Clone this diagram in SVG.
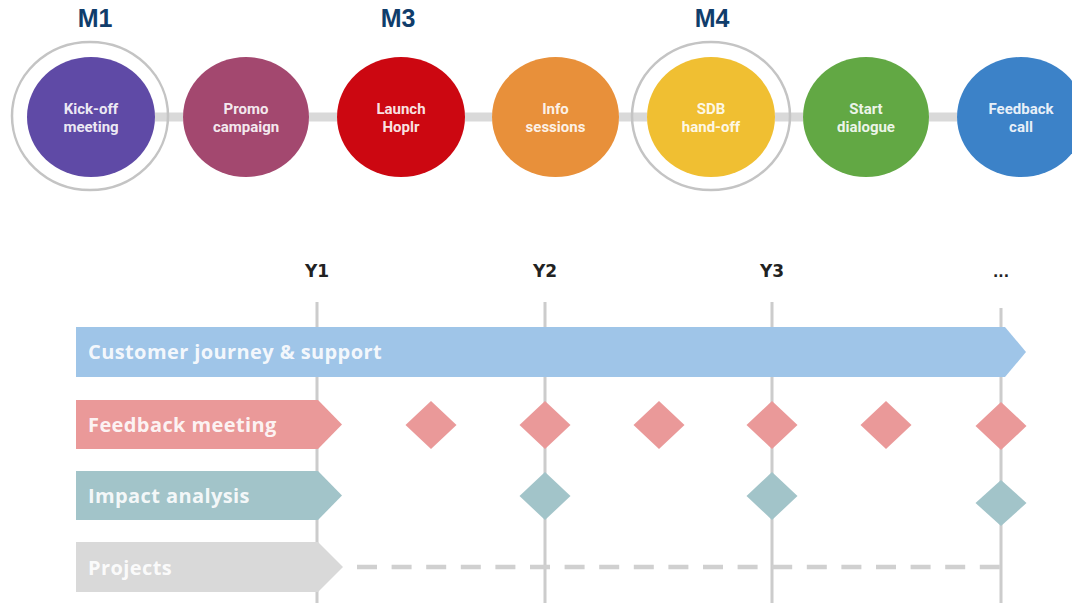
<svg xmlns="http://www.w3.org/2000/svg" width="1072" height="603" viewBox="0 0 1072 603">
  <style>
    .mlabel { font-family: "Liberation Sans", Arial, sans-serif; font-weight: 700; font-size: 25px; fill: #103d6b; text-anchor: middle; }
    .ctext { font-family: Roboto, "Liberation Sans", sans-serif; font-weight: 700; font-size: 15px; fill: #ffffff; fill-opacity: 0.9; text-anchor: middle; }
    .ring { fill: none; stroke: #c4c4c4; stroke-width: 2.5; }
    .conn { stroke: #d9d9d9; stroke-width: 9; fill: none; }
    .ylabel { font-family: "DejaVu Sans", sans-serif; font-weight: 700; font-size: 17px; fill: #222222; text-anchor: middle; }
    .vline { stroke: #cccccc; stroke-width: 3; fill: none; }
    .btext { font-family: "Open Sans", Roboto, "Liberation Sans", sans-serif; font-weight: 700; font-size: 20px; letter-spacing: 0.4px; fill: #ffffff; fill-opacity: 0.9; }
    .pink { fill: #ea9999; }
    .teal { fill: #a2c4c9; }
    .blue { fill: #9fc5e8; }
    .gray { fill: #d9d9d9; }
    .dash { stroke: #d0d0d0; stroke-width: 4.5; stroke-dasharray: 20 14.6; fill: none; }
  </style>

  <!-- milestone labels -->
  <text class="mlabel" x="95" y="27">M1</text>
  <text class="mlabel" x="398" y="27">M3</text>
  <text class="mlabel" x="712" y="27">M4</text>

  <g id="connectors">
    <line class="conn" x1="155" y1="117" x2="183" y2="117"/>
    <line class="conn" x1="309" y1="117" x2="337" y2="117"/>
    <line class="conn" x1="465" y1="117" x2="492" y2="117"/>
    <line class="conn" x1="619" y1="117" x2="647" y2="117"/>
    <line class="conn" x1="775" y1="117" x2="803" y2="117"/>
    <line class="conn" x1="929" y1="117" x2="957" y2="117"/>
  </g>

  <g id="kickoff">
    <ellipse class="ring" cx="90" cy="116" rx="78" ry="74"/>
    <ellipse cx="91" cy="117" rx="64" ry="60" fill="#5f4aa6"/>
    <text class="ctext" x="91" y="114">Kick-off</text>
    <text class="ctext" x="91" y="132">meeting</text>
  </g>
  <g id="promo">
    <ellipse cx="246" cy="117" rx="63" ry="60" fill="#a3486f"/>
    <text class="ctext" x="246" y="114">Promo</text>
    <text class="ctext" x="246" y="132">campaign</text>
  </g>
  <g id="launch">
    <ellipse cx="401" cy="117" rx="64" ry="60" fill="#cc0711"/>
    <text class="ctext" x="401" y="114">Launch</text>
    <text class="ctext" x="401" y="132">Hoplr</text>
  </g>
  <g id="info">
    <ellipse cx="555.5" cy="117" rx="63.5" ry="60" fill="#e8903a"/>
    <text class="ctext" x="555.5" y="114">Info</text>
    <text class="ctext" x="555.5" y="132">sessions</text>
  </g>
  <g id="sdb">
    <ellipse class="ring" cx="711" cy="116" rx="79" ry="74"/>
    <ellipse cx="711" cy="117" rx="64" ry="60" fill="#f0bf32"/>
    <text class="ctext" x="711" y="114">SDB</text>
    <text class="ctext" x="711" y="132">hand-off</text>
  </g>
  <g id="start">
    <ellipse cx="866" cy="117" rx="63" ry="60" fill="#62a844"/>
    <text class="ctext" x="866" y="114">Start</text>
    <text class="ctext" x="866" y="132">dialogue</text>
  </g>
  <g id="feedbackcall">
    <ellipse cx="1021" cy="117" rx="64" ry="60" fill="#3c82c8"/>
    <text class="ctext" x="1021" y="114">Feedback</text>
    <text class="ctext" x="1021" y="132">call</text>
  </g>

  <!-- timeline -->
  <g id="years">
    <text class="ylabel" x="317" y="277">Y1</text>
    <text class="ylabel" x="545" y="277">Y2</text>
    <text class="ylabel" x="772" y="277">Y3</text>
    <text class="ylabel" x="1001" y="277" style="font-size:14px">...</text>
    <line class="vline" x1="317" y1="302" x2="317" y2="603"/>
    <line class="vline" x1="545" y1="302" x2="545" y2="603"/>
    <line class="vline" x1="772" y1="302" x2="772" y2="603"/>
    <line class="vline" x1="1001" y1="308" x2="1001" y2="603"/>
  </g>

  <g id="customer-journey">
    <polygon class="blue" points="76,327 1005,327 1026,352 1005,377 76,377"/>
    <text class="btext" x="88" y="359">Customer journey &amp; support</text>
  </g>

  <g id="feedback-meeting">
    <polygon class="pink" points="76,400 318,400 342,424.5 318,449 76,449"/>
    <text class="btext" x="88" y="432">Feedback meeting</text>
    <polygon class="pink" points="431,401 456.5,425 431,449 405.5,425"/>
    <polygon class="pink" points="545,401 570.5,425 545,449 519.5,425"/>
    <polygon class="pink" points="659,401 684.5,425 659,449 633.5,425"/>
    <polygon class="pink" points="772,401 797.5,425 772,449 746.5,425"/>
    <polygon class="pink" points="886,401 911.5,425 886,449 860.5,425"/>
    <polygon class="pink" points="1001,402 1026.5,426 1001,450 975.5,426"/>
  </g>

  <g id="impact-analysis">
    <polygon class="teal" points="76,471 318,471 342,495.5 318,520 76,520"/>
    <text class="btext" x="88" y="503">Impact analysis</text>
    <polygon class="teal" points="545,472 570.5,496 545,520 519.5,496"/>
    <polygon class="teal" points="772,472 797.5,496 772,520 746.5,496"/>
    <polygon class="teal" points="1001,480 1026.5,503 1001,526 975.5,503"/>
  </g>

  <g id="projects">
    <polygon class="gray" points="76,542 318,542 343,567 318,592 76,592"/>
    <text class="btext" x="88" y="575">Projects</text>
    <line class="dash" x1="357" y1="567" x2="1000" y2="567"/>
  </g>
</svg>
